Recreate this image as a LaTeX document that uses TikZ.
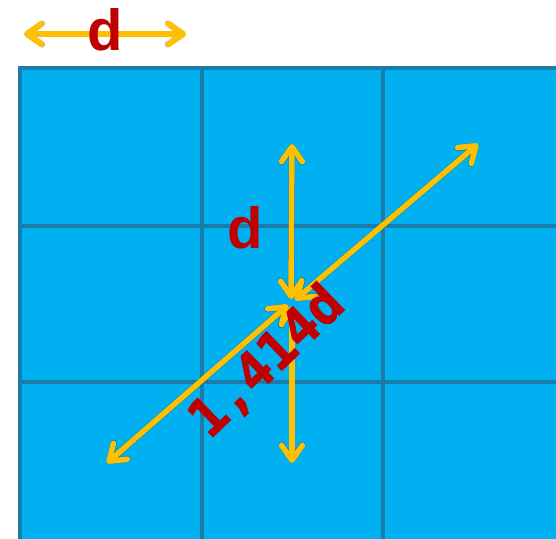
\documentclass[tikz,border=0pt]{standalone}
\usepackage{fontspec}
\setmainfont{Liberation Sans}
\newfontfamily\dmono{DejaVu Sans Mono}[BoldFeatures={FakeBold=1.5}]
\usetikzlibrary{arrows.meta}
\definecolor{cellblue}{HTML}{00B0F0}
\definecolor{gridline}{HTML}{1A7CA8}
\definecolor{arrowgold}{HTML}{FFC000}
\definecolor{labelred}{HTML}{C00000}
\begin{document}
\begin{tikzpicture}[x=1pt,y=-1pt,
  dimarrow/.style={draw=arrowgold,line width=5.5pt,line cap=round,
    {Straight Barb[length=15pt,width=21pt,line width=5.5pt,round]}-{Straight Barb[length=15pt,width=21pt,line width=5.5pt,round]}},
  dimshadow/.style={draw=black,opacity=0.2,line width=6.5pt,line cap=round,
    {Straight Barb[length=15pt,width=21pt,line width=6.5pt,round]}-{Straight Barb[length=15pt,width=21pt,line width=6.5pt,round]}},
  gridstroke/.style={draw=gridline,line width=3.5pt},
  dlabel/.style={text=labelred,font=\fontsize{58}{58}\selectfont\bfseries,inner sep=0pt}]
\useasboundingbox (0,0) rectangle (556,538);
% grid
\fill[cellblue] (20,68) rectangle (560,542);
\draw[gridstroke] (20,542) -- (20,68) -- (560,68);
\draw[gridstroke] (202,68) -- (202,542);
\draw[gridstroke] (383,68) -- (383,542);
\draw[gridstroke] (20,226) -- (560,226);
\draw[gridstroke] (20,382) -- (560,382);
% coordinates
\coordinate (L) at (24,34);
\coordinate (R) at (186,34);
\coordinate (T) at (292,144);
\coordinate (B) at (292,463);
\coordinate (UR) at (478,144);
\coordinate (LL) at (107,463);
\coordinate (Cu) at (291,299);
\coordinate (Cd) at (292,306);
\coordinate (Cr) at (295,300);
\coordinate (Cl) at (288,305);
% shadows
\begin{scope}[shift={(2.5,2.5)}]
\draw[dimshadow] (L) -- (R);
\draw[dimshadow] (T) -- (Cu);
\draw[dimshadow] (Cd) -- (B);
\draw[dimshadow] (UR) -- (Cr);
\draw[dimshadow] (Cl) -- (LL);
\end{scope}
% arrows
\draw[dimarrow] (L) -- (R);
\draw[dimarrow] (T) -- (Cu);
\draw[dimarrow] (Cd) -- (B);
\draw[dimarrow] (UR) -- (Cr);
\draw[dimarrow] (Cl) -- (LL);
% labels
\node[dlabel] (dtop) at (105,30) {d};
\node[dlabel] (dmid) at (245,228) {d};
\node[text=labelred,font=\dmono\fontsize{53}{53}\selectfont\bfseries,inner sep=0pt,rotate=44] (diag) at (267,362) {1,414d};
\end{tikzpicture}
\end{document}
